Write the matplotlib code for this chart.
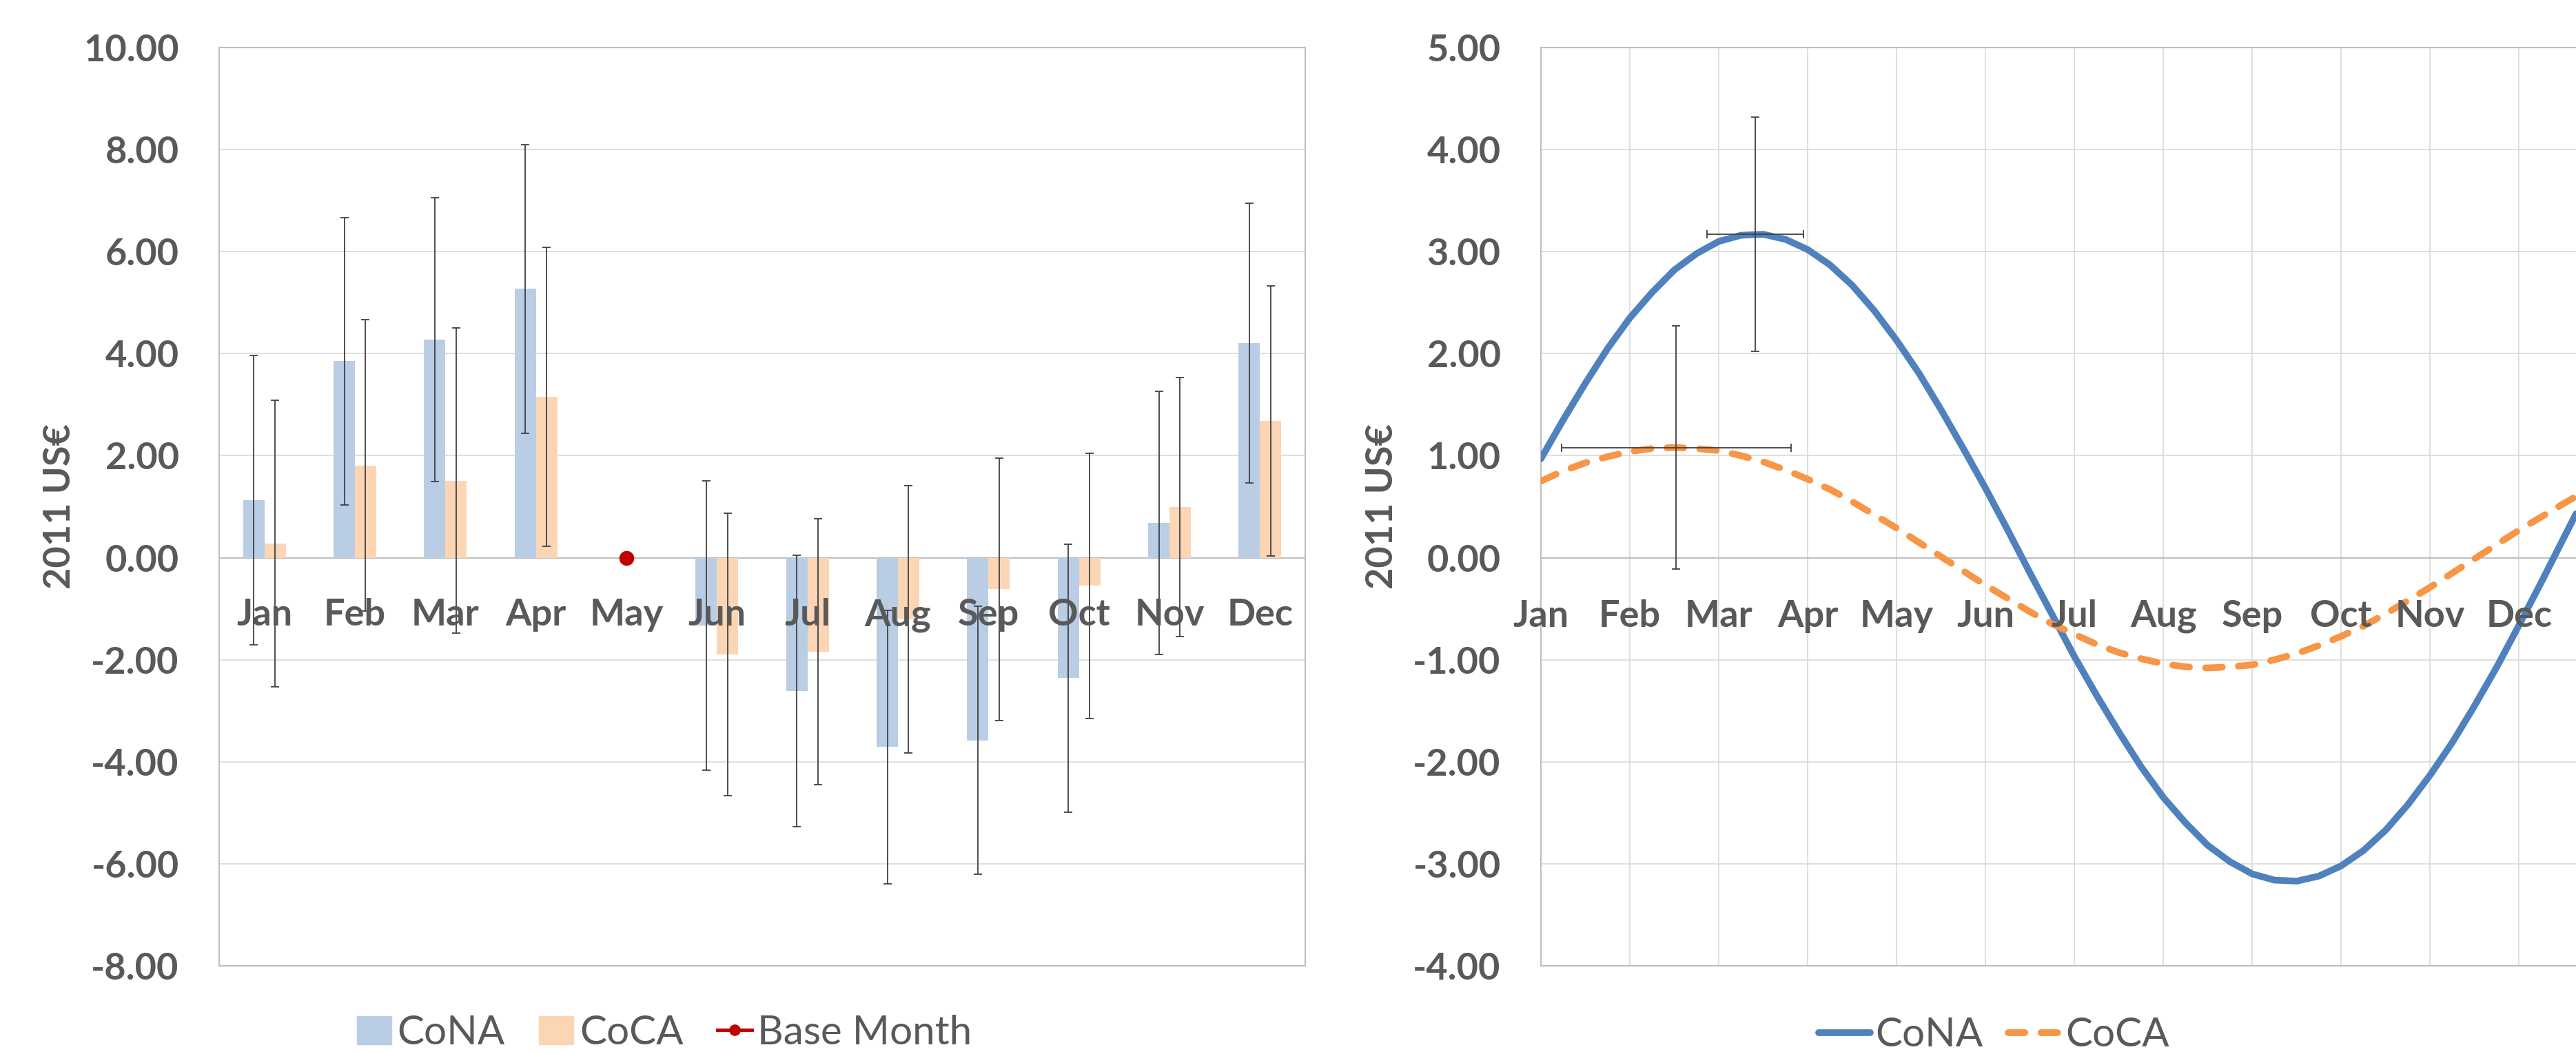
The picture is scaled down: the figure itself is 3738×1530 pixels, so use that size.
import numpy as np
import matplotlib
matplotlib.use('Agg')
import matplotlib.pyplot as plt
from matplotlib import transforms
from matplotlib.lines import Line2D
from matplotlib.patches import Patch

plt.rcParams['font.family'] = ['Lato', 'DejaVu Sans']

# ---- left chart: monthly bars with error bars ----
months = ['Jan', 'Feb', 'Mar', 'Apr', 'May', 'Jun', 'Jul', 'Aug', 'Sep', 'Oct', 'Nov', 'Dec']
nan = np.nan
cona = [1.13, 3.85, 4.27, 5.27, nan, -1.33, -2.61, -3.71, -3.58, -2.36, 0.68, 4.21]
cona_err = [2.84, 2.81, 2.78, 2.83, nan, 2.83, 2.66, 2.68, 2.63, 2.63, 2.58, 2.74]
coca = [0.28, 1.81, 1.51, 3.16, nan, -1.90, -1.84, -1.21, -0.62, -0.55, 0.99, 2.68]
coca_err = [2.81, 2.85, 2.99, 2.93, nan, 2.77, 2.61, 2.62, 2.57, 2.60, 2.54, 2.65]
base_month = 'May'
base_value = 0.0

# ---- right chart: smoothed seasonal curves, read every quarter month ----
curve_x = np.append(np.arange(0, 11.51, 0.25), 11.64)
cona_curve = [0.97, 1.35, 1.71, 2.05, 2.35, 2.60, 2.82, 2.98, 3.10, 3.16, 3.17, 3.12,
              3.02, 2.87, 2.67, 2.42, 2.13, 1.81, 1.45, 1.07, 0.68, 0.27, -0.15, -0.56,
              -0.97, -1.35, -1.71, -2.05, -2.35, -2.60, -2.82, -2.98, -3.10, -3.16, -3.17, -3.12,
              -3.02, -2.87, -2.67, -2.42, -2.13, -1.81, -1.45, -1.07, -0.66, -0.24, 0.19, 0.43]
coca_curve = [0.75, 0.85, 0.93, 0.99, 1.04, 1.07, 1.08, 1.07, 1.05, 1.00, 0.94, 0.86,
              0.77, 0.67, 0.55, 0.42, 0.29, 0.15, 0.01, -0.13, -0.27, -0.40, -0.53, -0.65,
              -0.75, -0.85, -0.93, -0.99, -1.04, -1.07, -1.08, -1.07, -1.05, -1.00, -0.94, -0.86,
              -0.77, -0.67, -0.55, -0.42, -0.29, -0.15, -0.01, 0.13, 0.27, 0.40, 0.53, 0.60]
cona_peak = (2.41, 3.17)
cona_peak_xerr = 0.54
cona_peak_yerr = 1.15
coca_peak = (1.52, 1.08)
coca_peak_xerr = 1.29
coca_peak_yerr = 1.19

TXT = '#595959'
GRID = '#D9D9D9'
AXIS = '#BFBFBF'
ERR = '#404040'

fig = plt.figure(figsize=(37.38, 15.3), dpi=100)
ax = fig.add_axes([318 / 3738, 1 - 1402 / 1530, 1576 / 3738, 1333 / 1530])
ax2 = fig.add_axes([2236 / 3738, 1 - 1402 / 1530, 1502 / 3738, 1333 / 1530])

for a in (ax, ax2):
    for s in a.spines.values():
        s.set_color(AXIS)
        s.set_linewidth(1.5)
    a.tick_params(axis='y', length=0, pad=42, labelsize=39, labelcolor=TXT)
    a.tick_params(axis='x', length=0, labelbottom=False)
    a.set_axisbelow(True)

# left
x = np.arange(len(months))
w = 0.236
ax.bar(x - w / 2, cona, w, color='#B9CDE5', label='CoNA', zorder=2)
ax.bar(x + w / 2, coca, w, color='#FCD5B5', label='CoCA', zorder=2)
ax.errorbar(x - w / 2, cona, yerr=cona_err, fmt='none', ecolor=ERR, elinewidth=1.3,
            capsize=4.5, capthick=1.3, zorder=3)
ax.errorbar(x + w / 2, coca, yerr=coca_err, fmt='none', ecolor=ERR, elinewidth=1.3,
            capsize=4.5, capthick=1.3, zorder=3)
ax.plot([months.index(base_month)], [base_value], 'o', color='#C00000', ms=14.5, zorder=4)
ax.set_xlim(-0.5, 11.5)
ax.set_ylim(-8, 10)
ax.set_yticks(np.arange(-8, 10.1, 2))
ax.set_yticklabels(['%.2f' % v for v in np.arange(-8, 10.1, 2)], fontweight='bold')
ax.set_xticks([])
ax.yaxis.grid(True, color=GRID, linewidth=1.2)
ax.axhline(0, color=AXIS, linewidth=1.5, zorder=1)

lab_tr = transforms.offset_copy(ax.transData, fig=fig, y=-71, units='points')
for i, m in enumerate(months):
    ax.text(i, 0, m, transform=lab_tr, ha='center', va='baseline', fontsize=39,
            fontweight='bold', color=TXT, zorder=5, clip_on=False)

handles = [Patch(color='#B9CDE5'), Patch(color='#FCD5B5'),
           Line2D([], [], color='#C00000', lw=3.5, marker='o', ms=11)]
fig.legend(handles, ['CoNA', 'CoCA', 'Base Month'], loc='center', bbox_to_anchor=(0.258, 0.02),
           ncol=3, frameon=False, fontsize=42, labelcolor=TXT, handlelength=0.85,
           handleheight=0.7, handletextpad=0.15, columnspacing=0.85, borderpad=0)

# right
ax2.plot(curve_x, cona_curve, color='#4F81BD', lw=7, solid_capstyle='round',
         solid_joinstyle='round', label='CoNA', zorder=3)
ax2.plot(curve_x, coca_curve, color='#F79646', lw=7, ls=(0, (2.5, 2.4)),
         dash_capstyle='round', label='CoCA', zorder=3)
ax2.errorbar([cona_peak[0]], [cona_peak[1]], xerr=cona_peak_xerr, yerr=cona_peak_yerr,
             fmt='none', ecolor=ERR, elinewidth=1.3, capsize=4.5, capthick=1.3, zorder=4)
ax2.errorbar([coca_peak[0]], [coca_peak[1]], xerr=coca_peak_xerr, yerr=coca_peak_yerr,
             fmt='none', ecolor=ERR, elinewidth=1.3, capsize=4.5, capthick=1.3, zorder=4)
ax2.set_xlim(0, 11.64)
ax2.set_ylim(-4, 5)
ax2.set_yticks(np.arange(-4, 5.1, 1))
ax2.set_yticklabels(['%.2f' % v for v in np.arange(-4, 5.1, 1)], fontweight='bold')
ax2.set_xticks(np.arange(12))
ax2.grid(True, color=GRID, linewidth=1.2)
ax2.axhline(0, color=AXIS, linewidth=1.5, zorder=1)
ax2.spines['right'].set_visible(False)

lab_tr2 = transforms.offset_copy(ax2.transData, fig=fig, y=-72, units='points')
for i, m in enumerate(months):
    ax2.text(i, 0, m, transform=lab_tr2, ha='center', va='baseline', fontsize=39,
             fontweight='bold', color=TXT, zorder=5, clip_on=False)

fig.legend(*ax2.get_legend_handles_labels(), loc='center', bbox_to_anchor=(0.774, 0.018),
           ncol=2, frameon=False, fontsize=42, labelcolor=TXT, handlelength=1.3,
           handletextpad=0.12, columnspacing=0.63, borderpad=0)

fig.text(86 / 3738, 1 - 735 / 1530, '2011 US€', rotation=90, ha='center', va='center',
         fontsize=39, fontweight='bold', color=TXT)
fig.text(2005 / 3738, 1 - 735 / 1530, '2011 US€', rotation=90, ha='center', va='center',
         fontsize=39, fontweight='bold', color=TXT)

fig.savefig('out.png', dpi=100)
